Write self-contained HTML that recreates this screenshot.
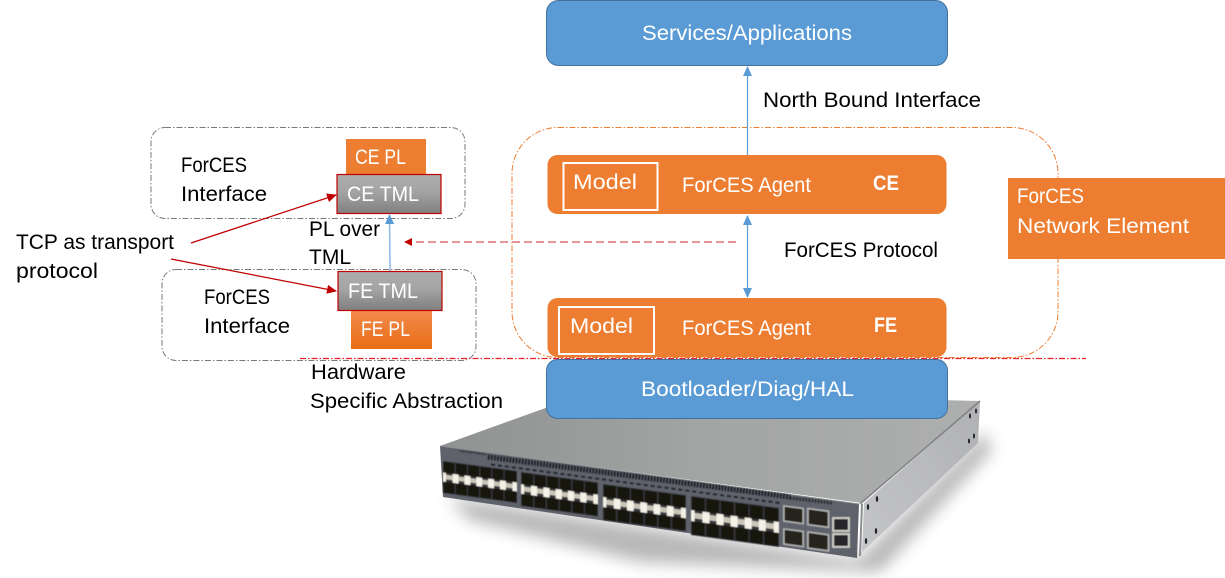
<!DOCTYPE html>
<html><head><meta charset="utf-8"><style>
html,body{margin:0;padding:0;background:#fff;width:1225px;height:578px;overflow:hidden}
svg{display:block}
text{font-family:"Liberation Sans",sans-serif;font-size:21px;fill:#000}
.w{fill:#fff}
</style></head><body>
<svg width="1225" height="578" viewBox="0 0 1225 578" xmlns="http://www.w3.org/2000/svg">
<defs>
<linearGradient id="gr" x1="0" y1="0" x2="0" y2="1"><stop offset="0" stop-color="#adadad"/><stop offset=".45" stop-color="#a4a4a4"/><stop offset="1" stop-color="#7f7f7f"/></linearGradient>
<linearGradient id="orgr" x1="0" y1="0" x2="0" y2="1"><stop offset="0" stop-color="#f28a4c"/><stop offset="1" stop-color="#e86d16"/></linearGradient>
<linearGradient id="top" x1="0" y1="0" x2="1" y2="0"><stop offset="0" stop-color="#8f9291"/><stop offset=".5" stop-color="#a3a5a4"/><stop offset="1" stop-color="#aeafaf"/></linearGradient>
<linearGradient id="side" x1="0" y1="1" x2="1" y2="0"><stop offset="0" stop-color="#c4c5c9"/><stop offset="1" stop-color="#b0b1b5"/></linearGradient>
<filter id="bl" x="-20%" y="-50%" width="140%" height="200%"><feGaussianBlur stdDeviation="8"/></filter>
<filter id="sb" x="-5%" y="-5%" width="110%" height="110%"><feGaussianBlur stdDeviation=".5"/></filter>
<marker id="ab" markerWidth="11" markerHeight="9" refX="9" refY="4.500" orient="auto-start-reverse" markerUnits="userSpaceOnUse"><path d="M0 0L10 4.500L0 9z" fill="#5b9bd5"/></marker>
<marker id="ar" markerWidth="11" markerHeight="9" refX="9" refY="4.500" orient="auto" markerUnits="userSpaceOnUse"><path d="M0 0L10 4.500L0 9z" fill="#c00000"/></marker>
<g id="ports">
<rect x="0" y="0" width="100" height="50" fill="#35363a"/>
<g fill="#17130f">
<rect x="1" y="1" width="14.5" height="17"/><rect x="17.5" y="1" width="14.5" height="17"/><rect x="34" y="1" width="14.5" height="17"/><rect x="50.5" y="1" width="14.5" height="17"/><rect x="67" y="1" width="14.5" height="17"/><rect x="83.5" y="1" width="15.5" height="17"/>
<rect x="1" y="32" width="14.5" height="17"/><rect x="17.5" y="32" width="14.5" height="17"/><rect x="34" y="32" width="14.5" height="17"/><rect x="50.5" y="32" width="14.5" height="17"/><rect x="67" y="32" width="14.5" height="17"/><rect x="83.5" y="32" width="15.5" height="17"/>
</g>
<rect x="1" y="21" width="98" height="7" fill="#c9c5b8"/>
<g fill="#f4f1e6">
<rect x="0" y="18" width="4" height="14"/><rect x="13" y="18" width="8" height="14"/><rect x="29" y="18" width="8" height="14"/><rect x="45" y="18" width="8" height="14"/><rect x="61" y="18" width="8" height="14"/><rect x="77" y="18" width="8" height="14"/><rect x="94" y="18" width="6" height="14"/>
</g>
</g>
<g id="sfp">
<rect x="0" y="0" width="20" height="16" fill="#b4b5b3"/><rect x="1.500" y="1.500" width="17" height="13" fill="#26241f"/>
</g>
</defs>

<!-- switch -->
<g>
<polygon points="448,497 858,560 985,432 992,450 880,572 640,562 470,520" fill="#555" opacity=".42" filter="url(#bl)"/>
<polygon points="440,446 590,392 980,401 862,503" fill="url(#top)"/>
<polygon points="864,503 980,401 978,443 862,552" fill="url(#side)"/>
<polygon points="440,446 859,504 857,558 443,497" fill="#5f626b"/>
<line x1="860" y1="504" x2="980" y2="401" stroke="#808284" stroke-width="1.500"/>
<line x1="862" y1="504" x2="860" y2="556" stroke="#8e8f93" stroke-width="2"/>
<line x1="440" y1="446" x2="859" y2="504" stroke="#8b8d92" stroke-width="1"/>
<g filter="url(#sb)">
<line x1="488" y1="457" x2="790" y2="497" stroke="#17181a" stroke-width="5" stroke-dasharray="1.600 1.500"/>
<line x1="460" y1="451" x2="487" y2="454.500" stroke="#222" stroke-width="1.500" stroke-dasharray="1.500 1.200"/>
<line x1="790" y1="498" x2="832" y2="503" stroke="#222" stroke-width="3" stroke-dasharray="1.600 1.500"/>
<line x1="491" y1="464.500" x2="780" y2="503" stroke="#1e1f22" stroke-width="1.600" stroke-dasharray="4 3"/>
<use href="#ports" transform="matrix(.74 .1 0 .64 443 461)"/>
<use href="#ports" transform="matrix(.77 .105 0 .68 521 472)"/>
<use href="#ports" transform="matrix(.83 .113 0 .72 603 484)"/>
<use href="#ports" transform="matrix(.88 .12 0 .78 691 496)"/>
<use href="#sfp" transform="matrix(1.05 .14 0 1.05 783 505)"/>
<use href="#sfp" transform="matrix(1.12 .15 0 1.12 807 507.500)"/>
<use href="#sfp" transform="matrix(1.05 .14 0 1.05 783 528)"/>
<use href="#sfp" transform="matrix(1.12 .15 0 1.12 807 531)"/>
<rect x="832" y="517" width="18" height="15" fill="#cfcfc8"/><rect x="834" y="519" width="14" height="11" fill="#26282a"/>
<rect x="832" y="533" width="18" height="15" fill="#cfcfc8"/><rect x="834" y="535" width="14" height="11" fill="#26282a"/>
</g>
<g fill="#23242a">
<ellipse cx="868" cy="507" rx="1.200" ry="3"/><ellipse cx="877" cy="499" rx="1.200" ry="3"/><ellipse cx="866" cy="541" rx="1.200" ry="3"/><ellipse cx="876" cy="531" rx="1.200" ry="3"/>
<ellipse cx="970" cy="416" rx="1" ry="2.500"/><ellipse cx="976" cy="411" rx="1" ry="2.500"/><ellipse cx="969" cy="441" rx="1" ry="2.500"/><ellipse cx="974" cy="436" rx="1" ry="2.500"/>
</g>
</g>

<!-- main boxes -->
<rect x="546.500" y="0.500" width="401" height="65" rx="12" fill="#5b9bd5" stroke="#41719c"/>
<rect x="512" y="127.500" width="546" height="230" rx="46" fill="none" stroke="#ed7d31" stroke-width="1" stroke-dasharray="6 2 1.500 2"/>
<rect x="547.500" y="155" width="399" height="59" rx="10" fill="#ed7d31"/>
<rect x="547.500" y="298" width="399" height="59" rx="10" fill="#ed7d31"/>
<rect x="563.500" y="163" width="94" height="47" fill="none" stroke="#fff" stroke-width="2"/>
<rect x="559" y="307" width="95" height="47" fill="none" stroke="#fff" stroke-width="2"/>
<rect x="546.500" y="359.500" width="401" height="59" rx="11" fill="#5b9bd5" stroke="#41719c"/>
<rect x="1008" y="178" width="217" height="81" fill="#ed7d31"/>

<!-- left dashed -->
<rect x="151" y="127.500" width="314" height="91" rx="14" fill="none" stroke="#7a7a7a" stroke-width="1" stroke-dasharray="6 2 1.500 2"/>
<rect x="162" y="269.500" width="314" height="91" rx="14" fill="none" stroke="#7a7a7a" stroke-width="1" stroke-dasharray="6 2 1.500 2"/>
<line x1="300" y1="358.500" x2="1086" y2="358.500" stroke="#e8202a" stroke-width="1.200" stroke-dasharray="6 2 1.500 2"/>

<!-- stacks -->
<rect x="346" y="139" width="80" height="35" fill="#ed7d31"/>
<rect x="337" y="174.500" width="104" height="39" fill="url(#gr)" stroke="#c00000" stroke-width="1.200"/>
<rect x="351" y="311" width="81" height="38" fill="url(#orgr)"/>
<rect x="338" y="271.500" width="104" height="39" fill="url(#gr)" stroke="#c00000" stroke-width="1.200"/>

<!-- connectors -->
<line x1="390" y1="271" x2="389.500" y2="215" stroke="#8db9e2" stroke-width="1.500" marker-end="url(#ab)"/>
<line x1="191" y1="243" x2="336" y2="195" stroke="#c00000" stroke-width="1.200" marker-end="url(#ar)"/>
<line x1="171" y1="259" x2="336" y2="291" stroke="#c00000" stroke-width="1.200" marker-end="url(#ar)"/>
<line x1="736" y1="242" x2="412" y2="242" stroke="#da7076" stroke-width="1.500" stroke-dasharray="8 4"/>
<path d="M404 242L412 238L412 246z" fill="#c00000"/>
<line x1="747.500" y1="155" x2="747.500" y2="67" stroke="#5b9bd5" stroke-width="1.200" marker-end="url(#ab)"/>
<line x1="747.500" y1="216" x2="747.500" y2="297" stroke="#5b9bd5" stroke-width="1.200" marker-start="url(#ab)" marker-end="url(#ab)"/>

<!-- labels -->
<text class="w" x="642" y="40" textLength="210" lengthAdjust="spacingAndGlyphs">Services/Applications</text>
<text x="763" y="107" textLength="218" lengthAdjust="spacingAndGlyphs">North Bound Interface</text>
<text x="181" y="172" textLength="66" lengthAdjust="spacingAndGlyphs">ForCES</text>
<text x="181" y="201" textLength="86" lengthAdjust="spacingAndGlyphs">Interface</text>
<text class="w" x="355" y="164" textLength="51" lengthAdjust="spacingAndGlyphs">CE PL</text>
<text class="w" x="347" y="201" textLength="72" lengthAdjust="spacingAndGlyphs">CE TML</text>
<text x="16" y="249" textLength="158" lengthAdjust="spacingAndGlyphs">TCP as transport</text>
<text x="16" y="278" textLength="82" lengthAdjust="spacingAndGlyphs">protocol</text>
<text x="309" y="236" textLength="71" lengthAdjust="spacingAndGlyphs">PL over</text>
<text x="309" y="264" textLength="42" lengthAdjust="spacingAndGlyphs">TML</text>
<text x="204" y="304" textLength="66" lengthAdjust="spacingAndGlyphs">ForCES</text>
<text x="204" y="333" textLength="86" lengthAdjust="spacingAndGlyphs">Interface</text>
<text class="w" x="348" y="298" textLength="70" lengthAdjust="spacingAndGlyphs">FE TML</text>
<text class="w" x="361" y="336" textLength="49" lengthAdjust="spacingAndGlyphs">FE PL</text>
<text x="311" y="379" textLength="95" lengthAdjust="spacingAndGlyphs">Hardware</text>
<text x="310" y="408" textLength="193" lengthAdjust="spacingAndGlyphs">Specific Abstraction</text>
<text class="w" x="573" y="189" textLength="64" lengthAdjust="spacingAndGlyphs">Model</text>
<text class="w" x="570" y="333" textLength="63" lengthAdjust="spacingAndGlyphs">Model</text>
<text class="w" x="682" y="192" textLength="129" lengthAdjust="spacingAndGlyphs">ForCES Agent</text>
<text class="w" x="682" y="335" textLength="129" lengthAdjust="spacingAndGlyphs">ForCES Agent</text>
<text class="w" x="873" y="190" font-weight="700" textLength="26" lengthAdjust="spacingAndGlyphs">CE</text>
<text class="w" x="874" y="332" font-weight="700" textLength="23" lengthAdjust="spacingAndGlyphs">FE</text>
<text x="784" y="257" textLength="154" lengthAdjust="spacingAndGlyphs">ForCES Protocol</text>
<text class="w" x="1017" y="203" textLength="67" lengthAdjust="spacingAndGlyphs">ForCES</text>
<text class="w" x="1017" y="233" textLength="172" lengthAdjust="spacingAndGlyphs">Network Element</text>
<text class="w" x="641" y="396" textLength="213" lengthAdjust="spacingAndGlyphs">Bootloader/Diag/HAL</text>
</svg>
</body></html>
